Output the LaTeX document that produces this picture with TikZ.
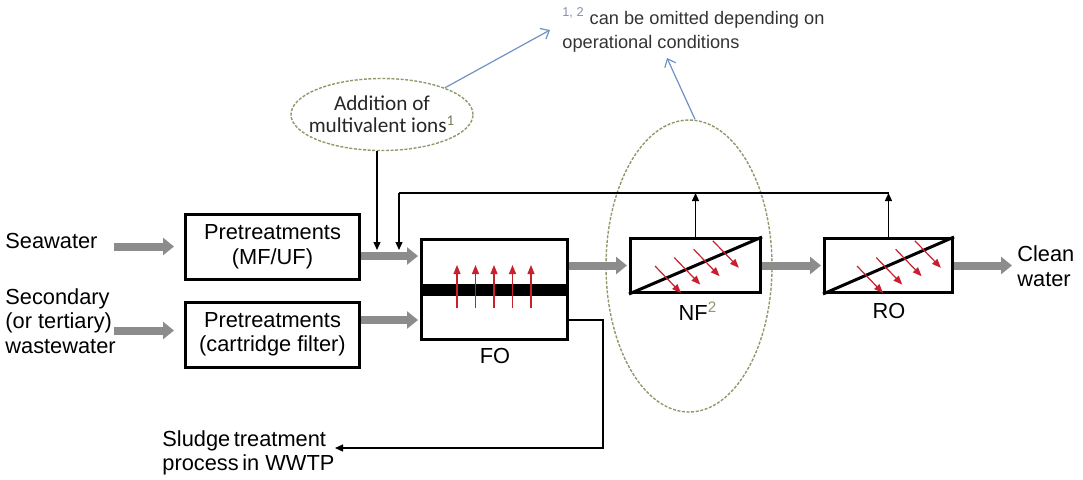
\documentclass[tikz,border=0pt]{standalone}
\usepackage{fontspec}
\setmainfont{Liberation Sans}
\newfontfamily\calfont{Carlito}
\usetikzlibrary{arrows.meta,calc,shapes.geometric}
\definecolor{pipegray}{HTML}{8C8C8C}
\definecolor{permred}{HTML}{C8202C}
\definecolor{ringolive}{HTML}{8C9A6C}
\definecolor{cueblue}{HTML}{6F92C6}
\definecolor{supgray}{HTML}{7F90A8}
\tikzset{
  unit/.style={draw, line width=1.5pt, inner sep=0pt},
  pipe/.style={draw=pipegray, line width=4pt, -{Triangle[length=5.5pt,width=8.5pt]}, shorten >=1pt},
  flow/.style={draw, line width=0.6pt, -{Triangle[length=4pt,width=3.5pt]}},
  perm/.style={draw=permred, line width=0.6pt, -{Triangle[length=4.5pt,width=3.5pt]}},
  ring/.style={draw=ringolive, dash pattern=on 1.5pt off 0.8pt, line width=0.7pt, ellipse, inner sep=0pt},
  cue/.style={draw=cueblue, line width=0.6pt, -{Straight Barb[length=3.5pt,width=6pt]}},
  lbl/.style={inner sep=0pt, align=left, font=\fontsize{10.9}{12.25}\selectfont}
}

\begin{document}
\begin{tikzpicture}[x=0.5pt,y=-0.5pt]
		\useasboundingbox (0,0) rectangle (1083,479);
		%%%%% units %%%%%
		\node[unit, lbl, align=center, minimum width=87pt, minimum height=32.5pt] (pre1) at (272.5,246.5) {Pretreatments\\(MF/UF)};
		\node[unit, lbl, align=center, minimum width=87pt, minimum height=32.5pt] (pre2) at (272.5,334.5) {Pretreatments\\(cartridge filter)};
		\node[unit, minimum width=73pt, minimum height=50pt] (fo) at (494.5,289.5) {};
		\node[unit, minimum width=65pt, minimum height=27pt] (nf) at (695.5,265.5) {};
		\node[unit, minimum width=64pt, minimum height=27pt] (ro) at (888.5,265.5) {};
		
		%%%%% texts %%%%%
		\node[lbl, anchor=west] (sea) at (5,241) {Seawater};
		\node[lbl, anchor=west] (sec) at (5,321) {Secondary\\(or tertiary)\\wastewater};
		\node[lbl, anchor=west] (clean) at (1017,266) {Clean\\water};
		\node[lbl, anchor=west] (sludge) at (162,453) {Sludge\,treatment\\process\,in WWTP};
		\node[lbl] (folbl) at (495,356) {FO};
		\node[lbl] (nflbl) at (698,311) {NF\textsuperscript{\color{ringolive}2}};
		\node[lbl] (rolbl) at (889,311) {RO};
		\node[inner sep=0pt, align=left, text=black!80, font=\fontsize{9.1}{12}\selectfont, anchor=west] (note) at (562,30)
			{\textsuperscript{\color{supgray}1, 2} can be omitted depending on\\operational conditions};
		
		%%%%% dashed rings %%%%%
		\node[ring, minimum width=91pt, minimum height=36pt] (addn) at (382,114.5) {};
		\node[inner sep=0pt, align=center, text=black!85, font=\calfont\fontsize{10.6}{11.2}\selectfont]
			(addtxt) at (addn.center) {Addition of\\multivalent ions\textsuperscript{\color{ringolive!80!black}1}};
		\node[ring, minimum width=83pt, minimum height=146pt] (nfzone) at (689,266) {};
		
		%%%%% water lines %%%%%
		\coordinate (hiin) at (0,256);
		\coordinate (lowin) at (0,320);
		\coordinate (outlet) at (1014,265.5);
		\draw[pipe] ([xshift=-35pt]pre1.west) -- ([xshift=-4pt]pre1.west);
		\draw[pipe] ([xshift=-35pt,yshift=2pt]pre2.west) -- ([xshift=-4pt,yshift=2pt]pre2.west);
		\draw[pipe] (pre1.east |- hiin) -- (fo.west |- hiin);
		\draw[pipe] (pre2.east |- lowin) -- (fo.west |- lowin);
		\draw[pipe] (fo.east |- nf.west) -- (nf.west);
		\draw[pipe] (nf.east) -- (ro.west);
		\draw[pipe] (ro.east) -- (outlet);
		
		%%%%% membranes %%%%%
		\fill ($(fo.west)+(0,-6)$) rectangle ($(fo.east)+(0,6)$);
		\foreach \i in {0,...,4}
			\draw[perm] (457+18.5*\i,308) -- ++(0,-43);
		\draw[line width=1.5pt] (nf.south west) -- (nf.north east);
		\draw[line width=1.5pt] (ro.south west) -- (ro.north east);
		\foreach \i in {0,...,3}{
			\draw[perm] ($(nf.center)+(-40.5+19.3*\i,0.5-8.4*\i)$) -- ++(26,27);
			\draw[perm] ($(ro.center)+(-31.5+19.3*\i,0.5-8.4*\i)$) -- ++(26,27);
		}
		
		%%%%% recycle and dosing %%%%%
		\coordinate (recy) at (399,193);
		\draw[flow] (nf.north) -- (nf.north |- recy);
		\draw[flow] (ro.north) -- (ro.north |- recy);
		\draw[line width=0.6pt] (ro.north |- recy) -- (recy);
		\draw[flow] (recy) -- (399,250);
		\draw[flow] ([xshift=-2.5pt]addn.south) -- (377,250);
		
		%%%%% sludge %%%%%
		\coordinate (drain) at (603,448);
		\draw[flow] (fo.east |- lowin) -- (drain |- lowin) -- (drain) -- (335,448);
		
		%%%%% notes %%%%%
		\coordinate (cuetip) at (667,58);
		\draw[cue] (addn.23) -- ([xshift=-6pt]note.west);
		\draw[cue] ([xshift=3pt]nfzone.north) -- (cuetip);
		%%%%% END %%%%%
\end{tikzpicture}
\end{document}
